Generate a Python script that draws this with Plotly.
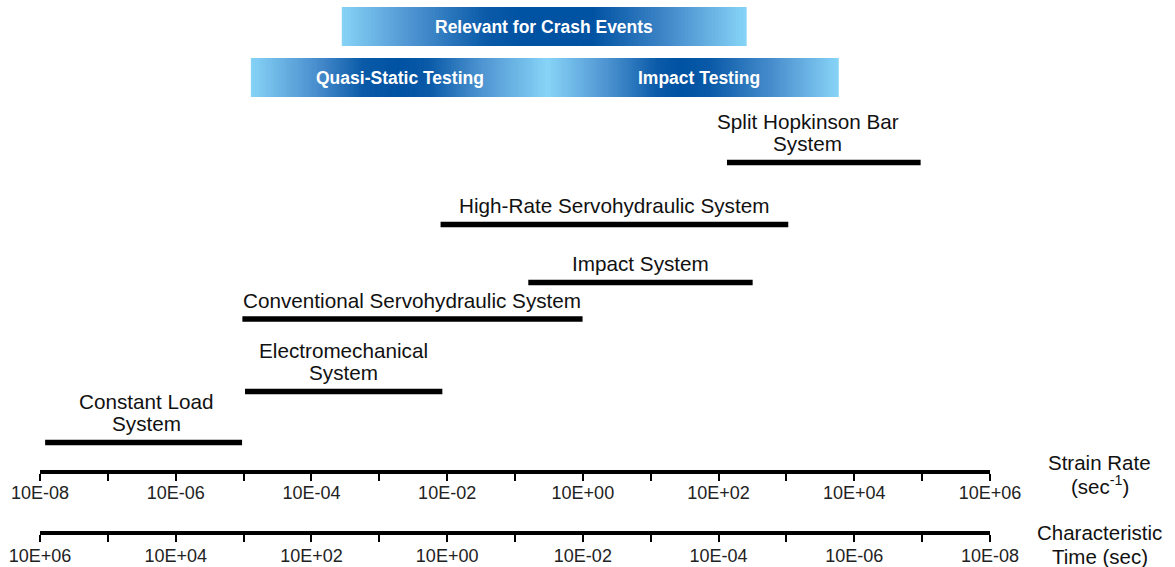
import math
import numpy as np
import plotly.graph_objects as go

# ---------------- data ----------------
systems = [
    ["Constant Load", "System"],
    ["Electromechanical", "System"],
    ["Conventional Servohydraulic System"],
    ["Impact System"],
    ["High-Rate Servohydraulic System"],
    ["Split Hopkinson Bar", "System"],
]
rate_min = [1.19e-8, 1.05e-5, 9.6e-6, 0.157, 8.0e-3, 133]
rate_max = [9.5e-6, 8.5e-3, 0.99, 318, 1064, 9.5e4]

banner_text = ["Relevant for Crash Events", "Quasi-Static Testing", "Impact Testing"]
banner_min = [2.8e-4, 1.28e-5, 0.31]
banner_max = [259, 0.31, 5900]

rate_ticks = [10.0 ** e for e in range(-8, 7)]
rate_ticktext = ["10E%+03d" % e if e % 2 == 0 else "" for e in range(-8, 7)]
time_ticks = [10.0 ** e for e in range(6, -9, -1)]
time_ticktext = ["10E%+03d" % e if e % 2 == 0 else "" for e in range(6, -9, -1)]

axis_titles = [["Strain Rate", "(sec<sup>-1</sup>)"], ["Characteristic", "Time (sec)"]]

# ---------------- layout helpers (positions/styles) ----------------
FONT = "Liberation Sans, Arial, Helvetica, sans-serif"
PLOT_H = 533
row_level = [27.5, 78.5, 151, 187.5, 245.5, 307.5]   # y in px above the strain-rate axis
label_xshift = [3, 0, 0, 0, 0, -16]
banner_y = [(424, 463), (373, 412), (373, 412)]
banner_text_xshift = [0, 0, 5]
LIGHT = "#87d4f7"
DARK = "#0052a2"
banner_scales = [
    [[0, LIGHT], [0.17, "#4f95d2"], [0.36, "#0a5aa8"], [0.45, DARK], [0.62, DARK],
     [0.8, "#3f86c8"], [1, LIGHT]],
    [[0, LIGHT], [0.22, "#4a8fce"], [0.38, "#0a5aa8"], [0.5, DARK], [0.6, "#0a5aa8"],
     [0.78, "#4f95d2"], [1, LIGHT]],
    [[0, LIGHT], [0.2, "#4f95d2"], [0.38, "#0a5aa8"], [0.46, DARK], [0.56, "#0a5aa8"],
     [0.78, "#4a8fce"], [1, LIGHT]],
]
N_STEPS = 120


def hex2rgb(h):
    h = h.lstrip("#")
    return [int(h[j:j + 2], 16) for j in (0, 2, 4)]


def scale_color(scale, f):
    for (p0, c0), (p1, c1) in zip(scale[:-1], scale[1:]):
        if p0 <= f <= p1:
            t = 0 if p1 == p0 else (f - p0) / (p1 - p0)
            a, b = hex2rgb(c0), hex2rgb(c1)
            return "rgb(%d,%d,%d)" % tuple(round(a[k] + (b[k] - a[k]) * t) for k in range(3))
    return scale[-1][1]


fig = go.Figure()

# banners: horizontal gradient built from thin slices on a hidden linear axis (decades)
for i, txt in enumerate(banner_text):
    y0, y1 = banner_y[i]
    x0, x1 = math.log10(banner_min[i]), math.log10(banner_max[i])
    step = (x1 - x0) / N_STEPS
    centers = x0 + (np.arange(N_STEPS) + 0.5) * step
    colors = [scale_color(banner_scales[i], (c - x0) / (x1 - x0)) for c in centers]
    widths = [step * 1.6] * N_STEPS
    # keep outer edges exact, except where a banner butts against another one
    if banner_min[i] not in banner_max:
        widths[0] = step
    if banner_max[i] not in banner_min:
        widths[-1] = step
    fig.add_trace(go.Bar(
        x=centers, y=[y1 - y0] * N_STEPS, base=y0, width=widths,
        xaxis="x3", yaxis="y", marker=dict(color=colors, line=dict(width=0)),
        hoverinfo="skip", showlegend=False))
    fig.add_annotation(
        x=(x0 + x1) / 2, y=(y0 + y1) / 2, xshift=banner_text_xshift[i],
        xref="x3", yref="y", text="<b>%s</b>" % txt, showarrow=False,
        font=dict(family=FONT, size=17.5, color="white"),
        xanchor="center", yanchor="middle")

# system bars
for i, lines in enumerate(systems):
    yv = row_level[i]
    fig.add_trace(go.Scatter(
        x=[rate_min[i], rate_max[i]], y=[yv, yv], mode="lines",
        line=dict(color="black", width=5.5), hoverinfo="skip", showlegend=False))
    xc = (math.log10(rate_min[i]) + math.log10(rate_max[i])) / 2
    n = len(lines)
    for k, ln in enumerate(lines):
        fig.add_annotation(
            x=xc, y=yv + 19 + 22.5 * (n - 1 - k), xref="x", yref="y",
            text=ln, showarrow=False, xshift=label_xshift[i],
            font=dict(family=FONT, size=20.7, color="#111111"),
            xanchor="center", yanchor="middle")

# dummy trace on characteristic-time axis so it renders
fig.add_trace(go.Scatter(x=[time_ticks[0], time_ticks[-1]], y=[-500, -500],
                         xaxis="x2", yaxis="y", mode="markers",
                         marker=dict(opacity=0), hoverinfo="skip", showlegend=False))

# right-side axis titles (paper coordinates)
title_px = [(462, 485), (532, 556)]
for (l1, l2), (pa, pb) in zip(axis_titles, title_px):
    for txt, p in ((l1, pa), (l2, pb)):
        fig.add_annotation(x=(1099.5 - 40) / 950, y=(PLOT_H - p) / PLOT_H,
                           xref="paper", yref="paper", text=txt,
                           showarrow=False,
                           font=dict(family=FONT, size=20.5, color="#111111"),
                           xanchor="center", yanchor="middle")

axis_common = dict(
    type="log", showgrid=False, zeroline=False, showline=True,
    linecolor="black", linewidth=3.5, ticks="outside", ticklen=7,
    tickwidth=1.5, tickcolor="black",
    tickfont=dict(family=FONT, size=18, color="#222222"),
)

fig.update_layout(
    width=1175, height=567,
    margin=dict(l=40, r=185, t=0, b=567 - PLOT_H),
    paper_bgcolor="white", plot_bgcolor="white",
    barmode="overlay",
    xaxis=dict(range=[-8, 6], tickvals=rate_ticks, ticktext=rate_ticktext,
               anchor="y", ticklabelstandoff=-3, **axis_common),
    xaxis2=dict(range=[6, -8], tickvals=time_ticks, ticktext=time_ticktext,
                overlaying="x", anchor="free", position=0, side="bottom",
                ticklabelstandoff=-1, **axis_common),
    xaxis3=dict(range=[-8, 6], overlaying="x", anchor="y", visible=False),
    yaxis=dict(range=[0, 470], domain=[(PLOT_H - 470) / PLOT_H, 1], visible=False),
    showlegend=False,
)

fig.write_html("out.html", config={"displayModeBar": False},
               post_script="document.body.style.margin='0px';document.body.style.overflow='hidden';")
